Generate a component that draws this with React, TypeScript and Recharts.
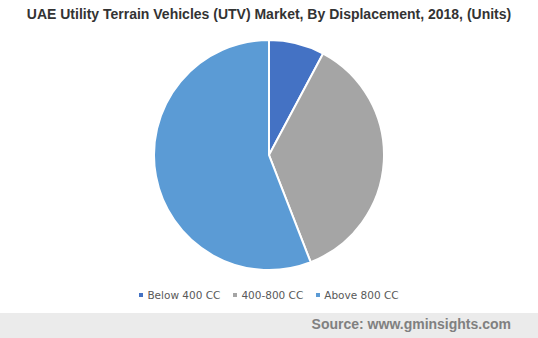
import { PieChart, Pie, Cell, Legend } from 'recharts'

const categories = ['Below 400 CC', '400-800 CC', 'Above 800 CC']
const units = [78, 363, 559]
const colors = ['#4472C4', '#A5A5A5', '#5B9BD5']

const data = categories.map((name, i) => ({ name, value: units[i] }))

function LegendRow() {
  return (
    <div style={{ display: 'flex', justifyContent: 'center', gap: 13, fontFamily: 'DejaVu Sans, Verdana, sans-serif', fontSize: 10.5, color: '#595959' }}>
      {categories.map((c, i) => (
        <span key={c} style={{ display: 'flex', alignItems: 'center' }}>
          <span style={{ width: 4, height: 4, background: colors[i], marginRight: 4, display: 'inline-block' }} />
          {c}
        </span>
      ))}
    </div>
  )
}

export default function App() {
  return (
    <div style={{ position: 'absolute', left: 0, top: 0, width: 538, height: 338, background: '#fff', overflow: 'hidden' }}>
      <div style={{ position: 'absolute', top: 6, width: 538, textAlign: 'center', fontFamily: 'Liberation Sans, Arial, sans-serif', fontWeight: 'bold', fontSize: 14, color: '#333' }}>
        UAE Utility Terrain Vehicles (UTV) Market, By Displacement, 2018, (Units)
      </div>
      <PieChart width={538} height={310} margin={{ top: 0, right: 0, bottom: 0, left: 0 }} style={{ position: 'absolute', top: 0, left: 0 }}>
        <Pie
          data={data}
          dataKey="value"
          nameKey="name"
          cx={269}
          cy={155}
          outerRadius={115}
          startAngle={90}
          endAngle={-270}
          stroke="#fff"
          strokeWidth={2}
          isAnimationActive={false}
        >
          {data.map((d, i) => (
            <Cell key={d.name} fill={colors[i]} />
          ))}
        </Pie>
        <Legend content={<LegendRow />} verticalAlign="bottom" wrapperStyle={{ bottom: 9 }} />
      </PieChart>
      <div style={{ position: 'absolute', top: 313, left: 0, width: 538, height: 25, background: '#ebebeb' }}>
        <div style={{ position: 'absolute', right: 27, top: 3, fontFamily: 'Liberation Sans, Arial, sans-serif', fontWeight: 'bold', fontSize: 14, color: '#808080' }}>
          Source: www.gminsights.com
        </div>
      </div>
    </div>
  )
}
